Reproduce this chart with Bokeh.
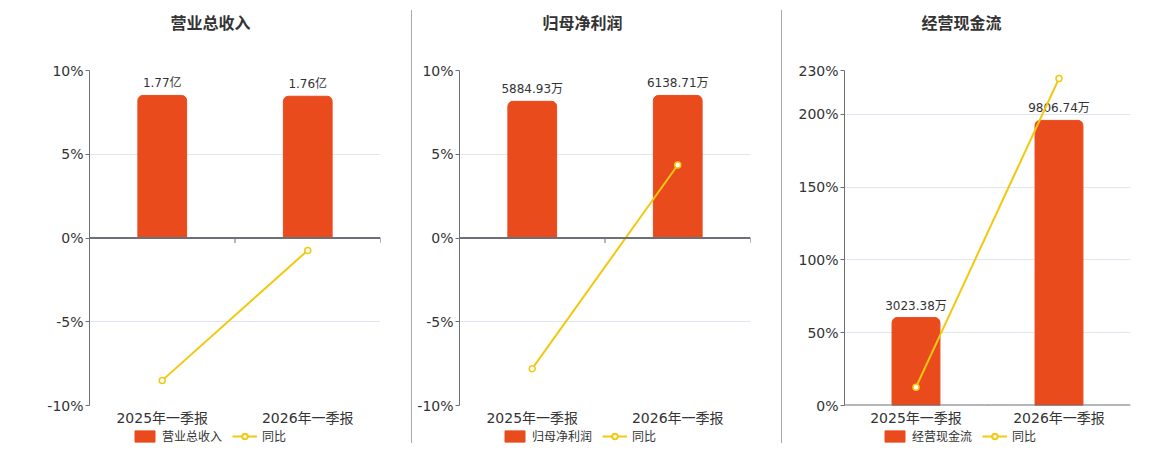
from bokeh.plotting import figure
from bokeh.models import (FactorRange, Range1d, FixedTicker, Span, Legend, LegendItem,
                          ColumnDataSource, Div, PrintfTickFormatter, Label)
from bokeh.layouts import row, column
from bokeh.transform import dodge
from bokeh.core.properties import value
from bokeh.embed import file_html
from bokeh.resources import INLINE

# ---------------- data ----------------
categories = ["2025年一季报", "2026年一季报"]

revenue_title = "营业总收入"
revenue = [1.77, 1.76]            # 亿
revenue_labels = ["1.77亿", "1.76亿"]
revenue_yoy = [-8.5, -0.74]        # %

profit_title = "归母净利润"
profit = [5884.93, 6138.71]        # 万
profit_labels = ["5884.93万", "6138.71万"]
profit_yoy = [-7.8, 4.36]          # %

cash_title = "经营现金流"
cash = [3023.38, 9806.74]          # 万
cash_labels = ["3023.38万", "9806.74万"]
cash_yoy = [12.6, 224.5]           # %

yoy_name = "同比"
ticks_pm = [-10, -5, 0, 5, 10]
ticks_cash = [0, 50, 100, 150, 200, 230]

# ---------------- style ----------------
FONT = "DejaVu Sans, Noto Sans CJK SC"
RED = "#E94B1D"
YEL = "#F2C811"
AXIS = "#6E7079"
GRID = "#E0E6F1"
TXT = "#333333"
TITLE_H = 36
TOP = 34
FRAME_H = 335
BOTTOM = 24
H = TOP + FRAME_H + BOTTOM
LEG_H = 15


def title_fig(width, title, title_off):
    tf = figure(width=width, height=TITLE_H, x_range=Range1d(0, 1), y_range=Range1d(0, 1),
                x_axis_type=None, y_axis_type=None, output_backend="svg",
                toolbar_location=None, min_border=0)
    tf.outline_line_color = None
    tf.grid.visible = False
    tf.add_layout(Label(x=title_off, y=TITLE_H - 23, x_units="screen", y_units="screen",
                        text=title, text_font=FONT, text_font_size="16px",
                        text_font_style="bold", text_color=TXT,
                        text_align="left", text_baseline="middle"))
    return tf


def legend_fig(width, name, src, vals, yoy, legend_x):
    # legend strip under the chart; its ranges lie above all data, so only the legend shows
    hi = max(max(vals), max(yoy))
    lf = figure(width=width, height=LEG_H, x_range=FactorRange(*categories),
                y_range=Range1d(hi * 2, hi * 3),
                x_axis_type=None, y_axis_type=None, output_backend="svg",
                toolbar_location=None, min_border=0)
    lf.outline_line_color = None
    lf.grid.visible = False
    b = lf.vbar(x="x", top="v", width=0.3, source=src, fill_color=RED, line_color=RED,
                border_radius=4)
    ln = lf.line(x="x", y="yoy", source=src, line_color=YEL, line_width=2)
    sc = lf.scatter(x="x", y="yoy", source=src, size=10, fill_color="white",
                    line_color=YEL, line_width=2)
    legend = Legend(items=[LegendItem(label=name, renderers=[b]),
                           LegendItem(label=yoy_name, renderers=[ln, sc])],
                    location=(legend_x, 0), orientation="horizontal",
                    padding=0, margin=0, spacing=10, glyph_width=25, glyph_height=14,
                    label_height=14, label_standoff=5, label_text_font=FONT,
                    label_text_font_size="12px", label_text_color=TXT,
                    border_line_color=None, background_fill_alpha=0)
    lf.add_layout(legend)
    return lf


def panel(title, name, vals, labels, yoy, ticks, width, left, right, title_off, legend_x):
    p = figure(width=width, height=H, x_range=FactorRange(*categories),
               y_range=Range1d(ticks[0], ticks[-1]),
               output_backend="svg", toolbar_location=None,
               min_border_left=left, min_border_right=right,
               min_border_top=TOP, min_border_bottom=BOTTOM)
    p.outline_line_color = None

    bar_max = max(vals) * 1.175
    if ticks[0] < 0:
        p.extra_y_ranges = {"bar": Range1d(-bar_max, bar_max)}
    else:
        p.extra_y_ranges = {"bar": Range1d(0, bar_max)}

    src = ColumnDataSource(dict(x=categories, v=vals, lbl=labels, yoy=yoy))

    p.yaxis.ticker = FixedTicker(ticks=ticks)
    p.yaxis.formatter = PrintfTickFormatter(format="%d%%")
    p.yaxis.axis_line_color = AXIS
    p.yaxis.major_tick_line_color = AXIS
    p.yaxis.major_tick_out = 4
    p.yaxis.major_tick_in = 0
    p.yaxis.minor_tick_line_color = None
    p.yaxis.major_label_text_font = FONT
    p.yaxis.major_label_text_font_size = "14px"
    p.yaxis.major_label_text_color = TXT
    p.yaxis.major_label_standoff = 2

    p.xaxis.axis_line_color = None
    p.xaxis.major_tick_line_color = None
    p.xaxis.major_tick_out = 0
    p.xaxis.major_tick_in = 0
    p.xaxis.minor_tick_line_color = None
    p.xaxis.major_label_text_font = FONT
    p.xaxis.major_label_text_font_size = "14px"
    p.xaxis.major_label_text_color = TXT
    p.xaxis.major_label_standoff = 4

    p.xgrid.visible = False
    p.ygrid.ticker = FixedTicker(ticks=ticks)
    p.ygrid.grid_line_color = GRID

    p.vbar(x="x", top="v", width=0.335, source=src, y_range_name="bar",
           fill_color=RED, line_color=RED, border_radius=(5, 5, 0, 0))
    p.text(x="x", y="v", text="lbl", source=src, y_range_name="bar",
           text_align="center", text_baseline="bottom", y_offset=-5,
           text_font=value(FONT), text_font_size="12px", text_color=TXT)

    p.add_layout(Span(location=0, dimension="width", line_color=AXIS, line_width=2))
    tick_len = 5 * (ticks[-1] - ticks[0]) / FRAME_H
    p.segment(x0=dodge("x", 0.5, range=p.x_range), x1=dodge("x", 0.5, range=p.x_range),
              y0=0, y1=-tick_len, source=src, line_color=AXIS, line_width=1)

    p.line(x="x", y="yoy", source=src, line_color=YEL, line_width=2)
    p.scatter(x="x", y="yoy", source=src, size=6, fill_color="white",
              line_color=YEL, line_width=1.5)

    return column(title_fig(width, title, title_off), p,
                  legend_fig(width, name, src, vals, yoy, legend_x), spacing=0)


c1 = panel(revenue_title, revenue_title, revenue, revenue_labels, revenue_yoy, ticks_pm,
           411, 89, 31, 81, 43)
c2 = panel(profit_title, profit_title, profit, profit_labels, profit_yoy, ticks_pm,
           369, 47, 31, 83, 43)
c3 = panel(cash_title, cash_title, cash, cash_labels, cash_yoy, ticks_cash,
           370, 62, 22, 77, 38)


def sep():
    return Div(width=1, height=433, margin=(10, 0, 0, 0),
               styles={"background-color": "#AAAAAA"})


layout = row(c1, sep(), c2, sep(), c3)
open("out.html", "w").write(file_html(layout, INLINE))
